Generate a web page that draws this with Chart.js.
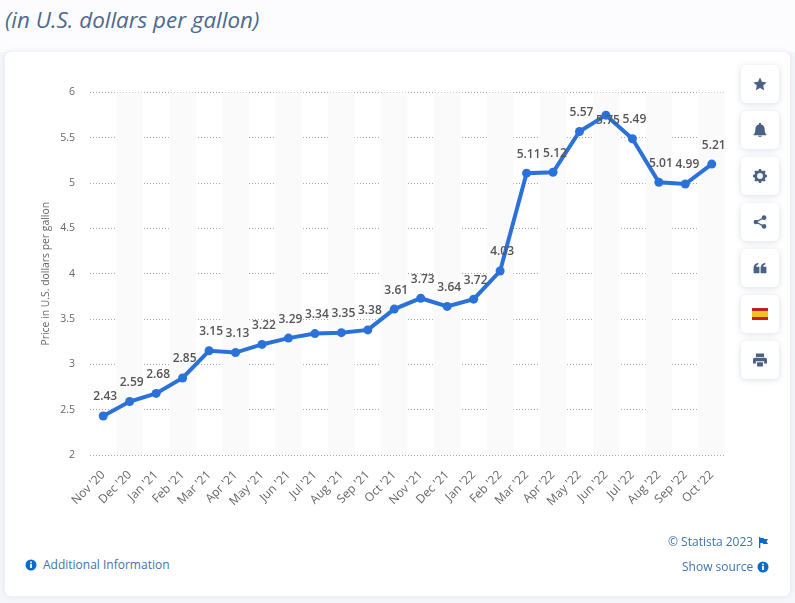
<!DOCTYPE html>
<html>
<head>
<meta charset="utf-8">
<script src="https://cdn.jsdelivr.net/npm/chart.js@4"></script>
<style>
    html, body { margin: 0; padding: 0; width: 795px; height: 603px; overflow: hidden; background: #f4f6fb; font-family: "Open Sans", sans-serif; }
    #top { position: absolute; left: 0; top: 0; width: 795px; height: 52px; background: #fcfcfe; }
    #subtitle { position: absolute; left: 5px; top: 4px; font-size: 22.4px; font-style: italic; color: #4d6a8c; white-space: nowrap; }
    #card { position: absolute; left: 5px; top: 52px; width: 785px; height: 544px; background: #fff; border-radius: 6px; box-shadow: 0 0 6px rgba(90, 100, 130, 0.12); }
    #chartBox { position: absolute; left: 5px; top: 52px; width: 730px; height: 490px; }
    .btn { position: absolute; left: 741px; width: 38px; height: 38px; background: #fff; border-radius: 5px; box-shadow: 0 1px 6px rgba(70, 90, 130, 0.2); display: flex; align-items: center; justify-content: center; }
    .link { position: absolute; font-size: 12px; color: #3f73ad; white-space: nowrap; line-height: 16px; }
    .ico { position: absolute; }
</style>
</head>
<body>
<div id="top"></div>
<div id="subtitle">(in U.S. dollars per gallon)</div>
<div id="card"></div>
<div id="chartBox"><canvas id="priceChart" width="730" height="490"></canvas></div>

<div class="btn" style="top:65px"><svg width="14" height="14" viewBox="0 0 24 24"><path fill="#4a6284" d="M12 1l3.4 7.3 7.9 1-5.8 5.4 1.5 7.9-7-3.9-7 3.9 1.5-7.9L.7 9.3l7.9-1z"/></svg></div>
<div class="btn" style="top:111px"><svg width="14" height="14" viewBox="0 0 24 24"><path fill="#4a6284" d="M12 0c1.3 0 2 .9 2 2v.6c3.7.9 6 4 6 7.9 0 6 1.500 7.500 3 9v1.500H1V19.500c1.500-1.500 3-3 3-9 0-3.900 2.300-7 6-7.900V2c0-1.100.7-2 2-2zM9 22h6c0 1.500-1.300 2-3 2s-3-.5-3-2z"/></svg></div>
<div class="btn" style="top:157px"><svg width="14" height="14" viewBox="0 0 24 24"><circle cx="12" cy="12" r="7.500" fill="none" stroke="#4a6284" stroke-width="5"/><path stroke="#4a6284" stroke-width="4" d="M12 0v5M12 19v5M0 12h5M19 12h5M3.500 3.500l3.500 3.500M17 17l3.500 3.500M3.500 20.500L7 17M17 7l3.500-3.500"/></svg></div>
<div class="btn" style="top:203px"><svg width="14" height="14" viewBox="0 0 24 24"><path fill="none" stroke="#4a6284" stroke-width="2" d="M19 4.500L5 12l14 7.500"/><circle cx="19" cy="4.500" r="4" fill="#4a6284"/><circle cx="5" cy="12" r="4" fill="#4a6284"/><circle cx="19" cy="19.500" r="4" fill="#4a6284"/></svg></div>
<div class="btn" style="top:249px"><svg width="14" height="14" viewBox="0 0 24 24"><path fill="#4a6284" d="M1 21v-9c0-5 3-8 8-9v3c-2 .6-3.500 2-3.500 4H11v11zM13 21v-9c0-5 3-8 8-9v3c-2 .6-3.500 2-3.500 4H23v11z"/></svg></div>
<div class="btn" style="top:295px"><svg width="16" height="12" viewBox="0 0 16 12"><rect width="16" height="12" fill="#c41e1e"/><rect y="3" width="16" height="6" fill="#f6bf1d"/></svg></div>
<div class="btn" style="top:341px"><svg width="14" height="14" viewBox="0 0 24 24"><path fill="#4a6284" d="M5 1h14v6H5zM3 8h18c1.500 0 3 1.200 3 3v7h-5v-4H5v4H0v-7c0-1.800 1.500-3 3-3zM7 16h10v7H7z"/></svg></div>

<svg class="ico" style="left:25px;top:559px" width="12" height="12" viewBox="0 0 12 12"><circle cx="6" cy="6" r="5.500" fill="#0b6bcb"/><rect x="5.100" y="5" width="1.800" height="4" fill="#fff"/><rect x="5.100" y="2.600" width="1.800" height="1.600" fill="#fff"/></svg>
<div class="link" style="left:43px;top:557px">Additional Information</div>
<div class="link" style="left:668px;top:534px">© Statista 2023</div>
<svg class="ico" style="left:759px;top:537px" width="9" height="11" viewBox="0 0 9 11"><path fill="#0b6bcb" d="M0 0h1.300v11H0zM1.300 1h3l1 1H9L7.500 4.500 9 7H4.500l-1-1H1.300z"/></svg>
<div class="link" style="left:682px;top:559px">Show source</div>
<svg class="ico" style="left:757px;top:561px" width="12" height="12" viewBox="0 0 12 12"><circle cx="6" cy="6" r="5.500" fill="#0b6bcb"/><rect x="5.100" y="5" width="1.800" height="4" fill="#fff"/><rect x="5.100" y="2.600" width="1.800" height="1.600" fill="#fff"/></svg>

<script>
const months = ["Nov '20", "Dec '20", "Jan '21", "Feb '21", "Mar '21", "Apr '21", "May '21", "Jun '21", "Jul '21", "Aug '21", "Sep '21", "Oct '21", "Nov '21", "Dec '21", "Jan '22", "Feb '22", "Mar '22", "Apr '22", "May '22", "Jun '22", "Jul '22", "Aug '22", "Sep '22", "Oct '22"];
const prices = [2.43, 2.59, 2.68, 2.85, 3.15, 3.13, 3.22, 3.29, 3.34, 3.35, 3.38, 3.61, 3.73, 3.64, 3.72, 4.03, 5.11, 5.12, 5.57, 5.75, 5.49, 5.01, 4.99, 5.21];
const yMin = 2;
const yMax = 6;
const yStep = 0.5;
const yAxisTitle = "Price in U.S. dollars per gallon";

// grey bands behind every second month
const stripes = {
    id: "stripes",
    beforeDatasetsDraw(chart) {
        const { ctx, chartArea, scales } = chart;
        const band = (chartArea.right - chartArea.left) / months.length;
        ctx.save();
        ctx.fillStyle = "#fafafb";
        months.forEach((m, i) => {
            if (i % 2 === 1) {
                ctx.fillRect(scales.x.getPixelForValue(i) - band / 2, chartArea.top, band, chartArea.bottom - chartArea.top);
            }
        });
        ctx.restore();
    },
};

// value labels above the points; the peak label sits on its point like the original
const valueLabels = {
    id: "valueLabels",
    afterDatasetsDraw(chart) {
        const { ctx } = chart;
        const peak = prices.indexOf(Math.max(...prices));
        ctx.save();
        ctx.font = "600 12px 'Open Sans'";
        ctx.fillStyle = "#555";
        ctx.textAlign = "center";
        ctx.textBaseline = "middle";
        chart.getDatasetMeta(0).data.forEach((pt, i) => {
            const dy = i === peak ? 5 : -19;
            ctx.fillText(prices[i].toFixed(2), pt.x + 2, pt.y + dy);
        });
        ctx.restore();
    },
};

new Chart(document.getElementById("priceChart").getContext("2d"), {
    type: "line",
    data: {
        labels: months,
        datasets: [
            {
                data: prices,
                borderColor: "#2a72d9",
                backgroundColor: "#2a72d9",
                borderWidth: 4,
                pointRadius: 4.5,
                pointBorderWidth: 0,
                pointHoverRadius: 4.5,
                tension: 0,
                fill: false,
            },
        ],
    },
    plugins: [stripes, valueLabels],
    options: {
        responsive: false,
        animation: false,
        layout: { padding: { top: 40.5, right: 10, left: 0, bottom: 0 } },
        plugins: { legend: { display: false }, tooltip: { enabled: false } },
        scales: {
            x: {
                offset: true,
                grid: { display: false },
                border: { display: false },
                ticks: { autoSkip: false, minRotation: 45, maxRotation: 45, color: "#666", padding: 5, font: { family: "'Open Sans'", size: 12 } },
                afterFit(scale) { scale.height = 87; },
            },
            y: {
                min: yMin,
                max: yMax,
                title: { display: true, text: yAxisTitle, color: "#666", font: { family: "'Open Sans'", size: 10.4 }, padding: { top: 35, bottom: 0 } },
                border: { display: false, dash: [1, 2] },
                grid: { color: "#a8a8a8", lineWidth: 1, drawTicks: false },
                ticks: { stepSize: yStep, color: "#666", padding: 15, font: { family: "'Open Sans'", size: 10.5 }, callback: (v) => String(v) },
                afterFit(scale) { scale.width = 85; },
            },
        },
    },
});
</script>
</body>
</html>
